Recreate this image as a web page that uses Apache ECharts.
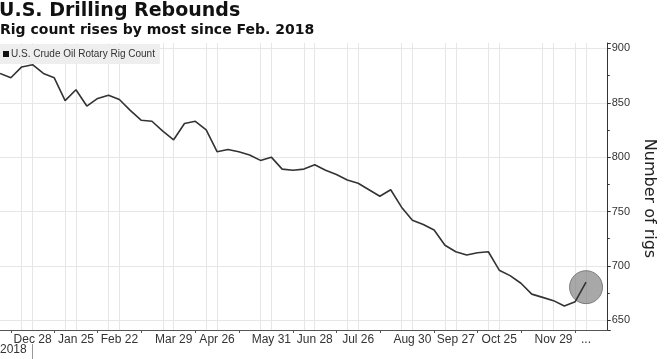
<!DOCTYPE html>
<html>
<head>
<meta charset="utf-8">
<script src="https://cdn.jsdelivr.net/npm/echarts@6/dist/echarts.min.js"></script>
<style>
html,body{margin:0;padding:0;background:#fff;}
#c{width:665px;height:359px;}
</style>
</head>
<body>
<div id="c"></div>
<script>
// Weekly report dates (Fridays); the last two are empty padding weeks on the right
const weeks = [
 '2018-12-07','2018-12-14','2018-12-21','2018-12-28',
 '2019-01-04','2019-01-11','2019-01-18','2019-01-25',
 '2019-02-01','2019-02-08','2019-02-15','2019-02-22',
 '2019-03-01','2019-03-08','2019-03-15','2019-03-22','2019-03-29',
 '2019-04-05','2019-04-12','2019-04-19','2019-04-26',
 '2019-05-03','2019-05-10','2019-05-17','2019-05-24','2019-05-31',
 '2019-06-07','2019-06-14','2019-06-21','2019-06-28',
 '2019-07-05','2019-07-12','2019-07-19','2019-07-26',
 '2019-08-02','2019-08-09','2019-08-16','2019-08-23','2019-08-30',
 '2019-09-06','2019-09-13','2019-09-20','2019-09-27',
 '2019-10-04','2019-10-11','2019-10-18','2019-10-25',
 '2019-11-01','2019-11-08','2019-11-15','2019-11-22','2019-11-29',
 '2019-12-06','2019-12-13','2019-12-20','2019-12-27',
 '2020-01-03'
];
// U.S. crude oil rotary rig count
const rigCount = [
 877,873,883,885,
 877,873,852,862,
 847,854,857,853,
 843,834,833,824,816,
 831,833,825,805,
 807,805,802,797,800,
 789,788,789,793,
 788,784,779,776,
 770,764,770,754,742,
 738,733,719,713,
 710,712,713,696,
 691,684,674,671,668,
 663,667,685
];
// Labelled dates on the x axis and their text
const tickDates = ['2018-12-28','2019-01-25','2019-02-22','2019-03-29','2019-04-26','2019-05-31',
 '2019-06-28','2019-07-26','2019-08-30','2019-09-27','2019-10-25','2019-11-29','2019-12-20'];
const tickLabels = ['Dec 28','Jan 25','Feb 22','Mar 29','Apr 26','May 31',
 'Jun 28','Jul 26','Aug 30','Sep 27','Oct 25','Nov 29','...'];
// Small tick marks on the x axis (mid-month)
const midMonthDates = ['2018-12-14','2019-01-11','2019-02-08','2019-03-08','2019-04-12','2019-05-10',
 '2019-06-14','2019-07-12','2019-08-09','2019-09-13','2019-10-11','2019-11-08','2019-12-13'];
// Highlighted point (last reading)
const highlightDate = '2019-12-20';
const highlightValue = 685;

const labelMap = {};
tickDates.forEach((d, i) => { labelMap[d] = tickLabels[i]; });
const seriesData = weeks.map((d, i) => (i < rigCount.length ? rigCount[i] : null));

const chart = echarts.init(document.getElementById('c'), null, {renderer: 'canvas'});
chart.setOption({
  animation: false,
  backgroundColor: '#ffffff',
  title: [
    {text: 'U.S. Drilling Rebounds', left: -1, top: 2, padding: 0,
     textStyle: {fontFamily: 'DejaVu Sans', fontWeight: 'bold', fontSize: 19, color: '#111'}},
    {text: 'Rig count rises by most since Feb. 2018', left: 0, top: 23, padding: 0,
     textStyle: {fontFamily: 'DejaVu Sans', fontWeight: 'bold', fontSize: 14, color: '#111'}}
  ],
  legend: {
    data: [{name: 'U.S. Crude Oil Rotary Rig Count', icon: 'rect'}],
    left: 0, top: 44, padding: [5, 5, 5, 3],
    itemWidth: 6, itemHeight: 6,
    backgroundColor: '#eeeeee',
    itemStyle: {color: '#111'},
    textStyle: {fontFamily: 'Liberation Sans', fontSize: 10, color: '#333', padding: [0, 0, 0, -3]},
    selectedMode: false
  },
  grid: {left: -2, right: 43, top: 43, bottom: 29, containLabel: false},
  xAxis: {
    type: 'category',
    data: weeks,
    boundaryGap: false,
    axisLine: {show: true, lineStyle: {color: '#555', width: 1}},
    axisTick: {show: true, length: 3, lineStyle: {color: '#555'},
      interval: (i, v) => midMonthDates.indexOf(v) >= 0},
    axisLabel: {show: true, margin: 4, fontFamily: 'Liberation Sans', fontSize: 12, color: '#333',
      interval: (i, v) => labelMap[v] !== undefined,
      formatter: (v) => labelMap[v] || ''},
    splitLine: {show: true, lineStyle: {color: '#e6e6e6', width: 1},
      interval: (i, v) => labelMap[v] !== undefined || (weeks[i + 1] && labelMap[weeks[i + 1]] !== undefined)}
  },
  yAxis: {
    type: 'value',
    position: 'right',
    min: 641, max: 905,
    splitNumber: 5,
    name: 'Number of rigs',
    nameLocation: 'middle',
    nameRotate: -90,
    nameGap: 31,
    nameTextStyle: {fontFamily: 'DejaVu Sans', fontSize: 16, color: '#222', padding: [0, 0, 0, 24]},
    axisLine: {show: true, lineStyle: {color: '#333', width: 1}},
    axisTick: {show: true, length: 3, lineStyle: {color: '#333'}},
    minorTick: {show: true, splitNumber: 2, length: 2, lineStyle: {color: '#333'}},
    axisLabel: {margin: 4, fontFamily: 'Liberation Sans', fontSize: 11, color: '#333',
      showMinLabel: false, showMaxLabel: false},
    splitLine: {show: true, showMinLine: false, showMaxLine: false, lineStyle: {color: '#e6e6e6', width: 1}}
  },
  series: [
    {
      name: 'highlight',
      type: 'scatter',
      z: 1,
      symbol: 'circle',
      symbolSize: 33,
      symbolOffset: [0, 5],
      silent: true,
      itemStyle: {color: 'rgba(128,128,128,0.85)', borderColor: '#6a6a6a', borderWidth: 1},
      data: [[highlightDate, highlightValue]]
    },
    {
      name: 'U.S. Crude Oil Rotary Rig Count',
      type: 'line',
      z: 3,
      data: seriesData,
      showSymbol: false,
      symbol: 'none',
      connectNulls: false,
      lineStyle: {color: '#333', width: 1.6},
      itemStyle: {color: '#111'}
    }
  ],
  graphic: [
    {type: 'text', left: 0, top: 344, style: {text: '2018', font: '12px "Liberation Sans"', fill: '#333'}},
    {type: 'line', shape: {x1: 32.5, y1: 344, x2: 32.5, y2: 359}, style: {stroke: '#999', lineWidth: 1}}
  ]
});
</script>
</body>
</html>
